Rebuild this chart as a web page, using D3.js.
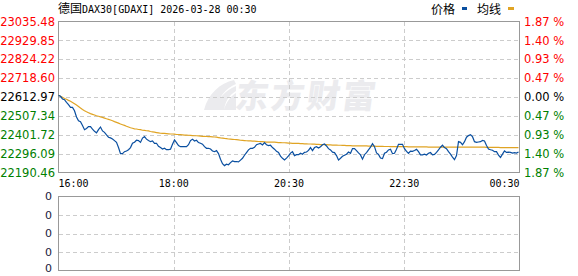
<!DOCTYPE html>
<html><head><meta charset="utf-8">
<script src="https://cdn.jsdelivr.net/npm/d3@7"></script>
<style>html,body{margin:0;padding:0;background:#fff;overflow:hidden;}</style>
</head><body><svg id="c" width="578" height="276"></svg>
<script>
const titleCN = "德国";
const titleRest = "DAX30[GDAXI] 2026-03-28 00:30";
const legendNames = ["价格", "均线"];
const timeLabels = ["16:00", "18:00", "20:30", "22:30", "00:30"];
const priceTicks = [23035.48, 22929.85, 22824.22, 22718.60, 22612.97, 22507.34, 22401.72, 22296.09, 22190.46];
const pctTicks = ["1.87", "1.40", "0.93", "0.47", "0.00", "0.47", "0.93", "1.40", "1.87"];
const volTicks = ["0", "0", "0", "0", "0"];
const prevClose = 22612.97;
const watermark = "东方财富";

const price = [
22622,22617,22602,22598,22583,22570,22555,22555,22536,22501,
22480,22475,22453,22430,22437,22447,22447,22433,22421,22412,
22430,22445,22423,22415,22401,22388,22384,22378,22369,22359,
22330,22296,22296,22307,22311,22318,22330,22354,22360,22371,
22369,22359,22383,22391,22377,22369,22363,22367,22354,22354,
22337,22330,22322,22326,22318,22318,22321,22349,22373,22358,
22341,22335,22335,22335,22335,22346,22369,22377,22367,22371,
22358,22354,22349,22335,22326,22326,22322,22311,22307,22313,
22296,22265,22240,22229,22237,22234,22246,22255,22251,22252,
22250,22260,22270,22287,22302,22317,22326,22326,22331,22346,
22350,22353,22345,22358,22346,22341,22343,22330,22321,22309,
22303,22282,22270,22261,22271,22283,22299,22307,22285,22290,
22290,22298,22293,22303,22305,22314,22330,22313,22330,22335,
22327,22335,22346,22350,22339,22324,22317,22304,22302,22285,
22260,22270,22281,22287,22293,22305,22298,22324,22324,22313,
22300,22289,22265,22290,22302,22317,22332,22352,22335,22300,
22292,22271,22268,22298,22304,22317,22321,22296,22298,22321,
22348,22348,22348,22324,22309,22298,22310,22309,22314,22320,
22307,22289,22289,22293,22288,22298,22302,22289,22292,22303,
22317,22332,22343,22330,22324,22307,22293,22277,22262,22285,
22363,22359,22346,22363,22388,22397,22402,22391,22363,22359,
22361,22363,22370,22367,22341,22322,22318,22315,22307,22307,
22288,22275,22293,22311,22303,22304,22303,22299,22302,22299,22305
];
const avg = [
22623,22617,22612,22605,22600,22594,22589,22582,22575,22568,
22560,22551,22543,22536,22530,22525,22520,22516,22512,22508,
22505,22502,22499,22495,22491,22488,22484,22480,22475,22471,
22467,22462,22458,22454,22449,22445,22441,22438,22435,22434,
22431,22430,22427,22426,22424,22423,22420,22418,22416,22414,
22412,22410,22409,22409,22408,22407,22406,22406,22405,22403,
22403,22402,22401,22400,22400,22399,22398,22397,22396,22396,
22395,22394,22393,22393,22392,22391,22391,22390,22389,22388,
22386,22384,22383,22381,22380,22378,22377,22376,22375,22374,
22373,22371,22370,22369,22368,22367,22367,22366,22366,22365,
22364,22363,22363,22362,22361,22361,22361,22360,22360,22359,
22358,22358,22357,22357,22356,22355,22355,22354,22354,22353,
22353,22352,22352,22351,22351,22350,22350,22349,22349,22348,
22348,22347,22347,22346,22346,22345,22345,22344,22344,22344,
22343,22343,22342,22342,22341,22341,22341,22340,22340,22340,
22340,22339,22339,22339,22339,22338,22338,22338,22338,22337,
22337,22337,22337,22336,22336,22336,22335,22335,22335,22335,
22335,22335,22335,22335,22335,22334,22334,22334,22334,22334,
22334,22334,22334,22334,22334,22333,22333,22333,22333,22333,
22333,22333,22333,22333,22333,22333,22333,22333,22333,22332,
22332,22332,22332,22332,22332,22332,22332,22332,22332,22332,
22332,22332,22332,22332,22331,22331,22331,22331,22331,22331,
22331,22330,22330,22330,22330,22330,22330,22330,22330,22330,22330
];

const colors = { price: "#0a4fa0", avg: "#e0a424", up: "#ff0000", down: "#008000", flat: "#000000", grid: "#cccccc", border: "#999999", wm: "#ebebee" };
const numFont = "'DejaVu Sans', sans-serif";
const monoFont = "'DejaVu Sans Mono', monospace";
const cjkFont = "'Noto Sans CJK SC', sans-serif";

const svg = d3.select("#c");
const L = 58.5, R = 519.5, T = 21.5, B = 172.5;
const VT = 196.5, VB = 270.5;

const x = d3.scaleLinear().domain([0, price.length - 0.5]).range([L, R]);
const y = d3.scaleLinear().domain([priceTicks[priceTicks.length - 1], priceTicks[0]]).range([B, T]);
const yv = d3.scaleLinear().domain([0, volTicks.length - 1]).range([VB, VT]);
const colFrac = d3.scaleLinear().domain([0, timeLabels.length - 1]).range([L, R]);

// watermark
const wm = svg.append("g").attr("transform", "translate(200,80)");
wm.append("path").attr("fill", colors.wm)
  .attr("d", "M4,30 C8,14 20,3 34,0 L36,4 C26,8 18,18 15,30 Z M14,30 C18,18 26,10 36,6 L36,11 C29,15 25,22 24,30 Z M24,30 C26,22 31,16 36,13 L36,30 Z");
wm.append("text").attr("x", 38).attr("y", 28).attr("font-family", cjkFont).attr("font-weight", 900)
  .attr("font-size", 33).attr("fill", colors.wm).attr("transform", "skewX(-8)").attr("textLength", 140).text(watermark);

// grid main
const gGrid = svg.append("g").attr("stroke", colors.grid).attr("stroke-dasharray", "4,3").attr("shape-rendering", "crispEdges");
gGrid.selectAll("line.h").data(priceTicks.slice(1, -1)).join("line")
  .attr("x1", L).attr("x2", R).attr("y1", d => Math.round(y(d)) + 0.5).attr("y2", d => Math.round(y(d)) + 0.5);
gGrid.selectAll("line.v").data(timeLabels.slice(1, -1)).join("line").attr("class", "v")
  .attr("x1", (d, i) => Math.round(colFrac(i + 1)) + 0.5).attr("x2", (d, i) => Math.round(colFrac(i + 1)) + 0.5).attr("y1", T).attr("y2", B);
// grid volume
const gVGrid = svg.append("g").attr("stroke", colors.grid).attr("stroke-dasharray", "4,3").attr("shape-rendering", "crispEdges");
gVGrid.selectAll("line.h").data(d3.range(1, volTicks.length - 1)).join("line")
  .attr("x1", L).attr("x2", R).attr("y1", d => Math.round(yv(d)) + 0.5).attr("y2", d => Math.round(yv(d)) + 0.5);
gVGrid.selectAll("line.v").data(timeLabels.slice(1, -1)).join("line").attr("class", "v")
  .attr("x1", (d, i) => Math.round(colFrac(i + 1)) + 0.5).attr("x2", (d, i) => Math.round(colFrac(i + 1)) + 0.5).attr("y1", VT).attr("y2", VB);

// borders
svg.append("rect").attr("x", L).attr("y", T).attr("width", R - L).attr("height", B - T)
  .attr("fill", "none").attr("stroke", colors.border).attr("shape-rendering", "crispEdges");
svg.append("rect").attr("x", L).attr("y", VT).attr("width", R - L).attr("height", VB - VT)
  .attr("fill", "none").attr("stroke", colors.border).attr("shape-rendering", "crispEdges");

// lines
const line = d3.line().x((d, i) => x(i)).y(d => y(d));
svg.append("path").datum(avg).attr("d", line).attr("fill", "none").attr("stroke", colors.avg).attr("stroke-width", 1.2);
svg.append("path").datum(price).attr("d", line).attr("fill", "none").attr("stroke", colors.price).attr("stroke-width", 1.2);

// left axis labels
const colorOf = v => v > prevClose + 0.001 ? colors.up : (v < prevClose - 0.001 ? colors.down : colors.flat);
svg.append("g").selectAll("text").data(priceTicks).join("text")
  .attr("x", 55).attr("y", d => y(d)).attr("dy", "0.36em").attr("text-anchor", "end")
  .attr("font-family", numFont).attr("font-size", 11.5).attr("fill", d => colorOf(d)).text(d => d.toFixed(2));
// right axis labels
svg.append("g").selectAll("text").data(pctTicks).join("text")
  .attr("x", 524).attr("y", (d, i) => y(priceTicks[i])).attr("dy", "0.36em")
  .attr("font-family", numFont).attr("font-size", 11.5).attr("fill", (d, i) => colorOf(priceTicks[i])).text(d => d + " %");
// time labels
svg.append("g").selectAll("text").data(timeLabels).join("text")
  .attr("x", (d, i) => colFrac(i)).attr("y", 187)
  .attr("text-anchor", (d, i) => i === 0 ? "start" : (i === timeLabels.length - 1 ? "end" : "middle"))
  .attr("font-family", monoFont).attr("font-size", 10).attr("fill", "#000").text(d => d);
// volume labels
svg.append("g").selectAll("text").data(volTicks).join("text")
  .attr("x", 52).attr("y", (d, i) => Math.min(yv(i), 268)).attr("dy", "0.36em").attr("text-anchor", "end")
  .attr("font-family", numFont).attr("font-size", 11).attr("fill", "#1a1a40").text(d => d);

// title
const t = svg.append("text").attr("x", 58).attr("y", 13).attr("fill", "#000");
t.append("tspan").attr("font-family", cjkFont).attr("font-size", 12).text(titleCN);
t.append("tspan").attr("font-family", monoFont).attr("font-size", 10).text(titleRest);

// legend
const lg = svg.append("g").attr("font-family", cjkFont).attr("font-size", 12).attr("fill", "#000");
lg.append("text").attr("x", 431).attr("y", 14).text(legendNames[0]);
lg.append("rect").attr("x", 462).attr("y", 7).attr("width", 5).attr("height", 3).attr("fill", colors.price);
lg.append("text").attr("x", 477).attr("y", 14).text(legendNames[1]);
lg.append("rect").attr("x", 508).attr("y", 7).attr("width", 6).attr("height", 3).attr("fill", colors.avg);
</script></body></html>
